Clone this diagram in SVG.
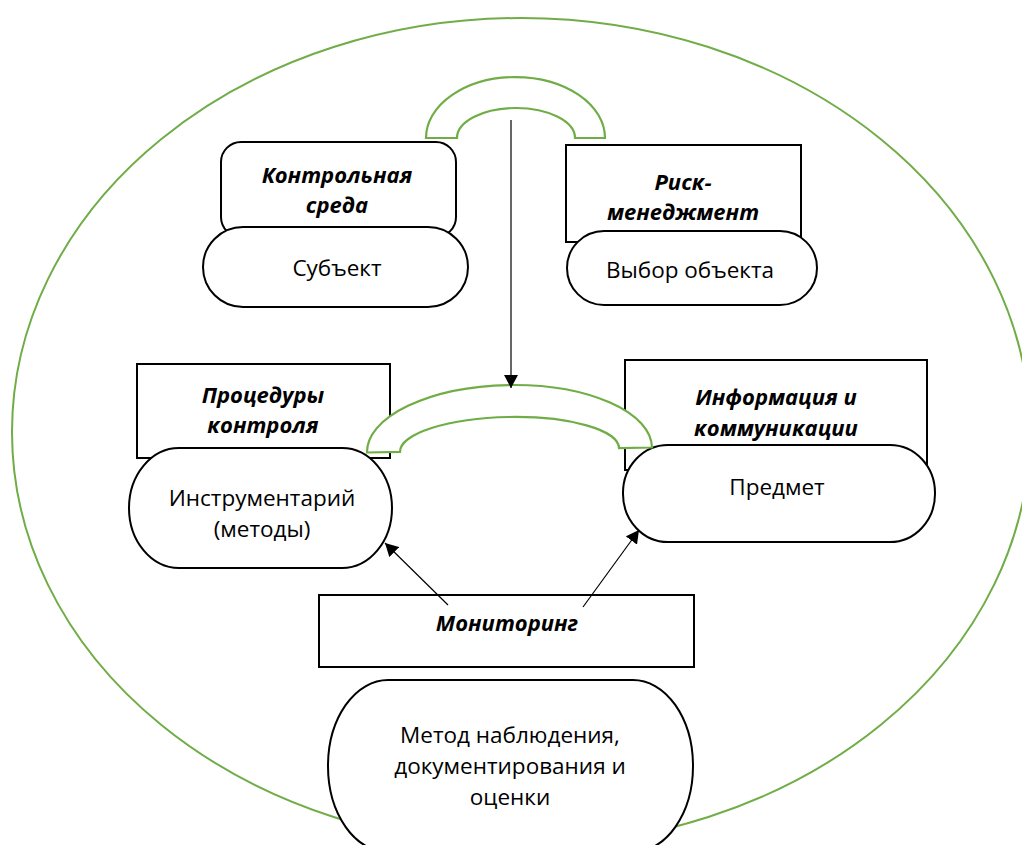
<svg xmlns="http://www.w3.org/2000/svg" width="1022" height="845" viewBox="0 0 1022 845">
<style>
.bg{fill:#ffffff}
.frame{fill:none;stroke:#70AD47;stroke-width:2}
.arch{fill:#ffffff;stroke:#70AD47;stroke-width:2.2;stroke-linejoin:miter}
.box{fill:#ffffff;stroke:#000000;stroke-width:2}
.oval{fill:#ffffff;stroke:#000000;stroke-width:2}
.h{font-family:"Open Sans","Liberation Sans",sans-serif;font-weight:bold;font-style:italic;font-size:22px;fill:#000;text-anchor:middle}
.t{font-family:"Open Sans","Liberation Sans",sans-serif;font-size:22.5px;fill:#000;text-anchor:middle}
.conn{stroke:#000;stroke-width:1.2;fill:none}
</style>
<defs>
<marker id="ah" viewBox="0 0 13 14" refX="13" refY="7" markerWidth="13" markerHeight="14" markerUnits="userSpaceOnUse" orient="auto">
<path d="M0,0 L13,7 L0,14 Z" fill="#000"/>
</marker>
</defs>
<rect class="bg" x="0" y="0" width="1022" height="845"/>
<ellipse id="frame" class="frame" cx="521" cy="432" rx="509" ry="414"/>

<g id="kontrolnaya-sreda">
<rect class="box" x="221" y="142" width="235" height="95" rx="20" ry="20"/>
<text class="h" x="337" y="183">Контрольная</text>
<text class="h" x="337" y="213">среда</text>
</g>
<g id="subekt">
<rect class="oval" x="203" y="227" width="265" height="80" rx="40" ry="40"/>
<text class="t" x="337" y="276">Субъект</text>
</g>

<g id="risk">
<rect class="box" x="566" y="145" width="235" height="97"/>
<text class="h" x="683" y="190">Риск-</text>
<text class="h" x="683" y="220">менеджмент</text>
</g>
<g id="vybor">
<rect class="oval" x="567" y="231" width="250" height="74" rx="37" ry="37"/>
<text class="t" x="690" y="278">Выбор объекта</text>
</g>

<g id="procedury">
<rect class="box" x="137" y="364" width="253" height="94"/>
<text class="h" x="263" y="403">Процедуры</text>
<text class="h" x="263" y="433">контроля</text>
</g>
<g id="instrumentariy">
<rect class="oval" x="129" y="448" width="263" height="120" rx="50" ry="60"/>
<text class="t" x="262" y="506">Инструментарий</text>
<text class="t" x="262" y="537">(методы)</text>
</g>

<g id="informaciya">
<rect class="box" x="625" y="360" width="302" height="110"/>
<text class="h" x="776" y="405">Информация и</text>
<text class="h" x="776" y="436">коммуникации</text>
</g>
<g id="predmet">
<rect class="oval" x="623" y="445" width="312" height="97" rx="45" ry="48"/>
<text class="t" x="777" y="495">Предмет</text>
</g>

<g id="monitoring">
<rect class="box" x="319" y="595" width="375" height="72"/>
<text class="h" x="507" y="631">Мониторинг</text>
</g>
<g id="metod">
<rect class="oval" x="328" y="680" width="365" height="172" rx="60" ry="86"/>
<text class="t" x="510" y="743">Метод наблюдения,</text>
<text class="t" x="510" y="774">документирования и</text>
<text class="t" x="510" y="805">оценки</text>
</g>

<g id="arch-top">
<path class="arch" d="M426,138 A89.5,61 0 0 1 605,138 L575,138 A59,30 0 0 0 457,138 Z"/>
</g>
<g id="arch-middle">
<path class="arch" transform="rotate(-1 510 450)" d="M367,450 A142.5,65 0 0 1 652,450 L619,450 A109.5,33 0 0 0 400,450 Z"/>
</g>

<g id="connectors">
<line class="conn" x1="511" y1="120" x2="511" y2="388" marker-end="url(#ah)"/>
<line class="conn" x1="448" y1="605" x2="385" y2="543" marker-end="url(#ah)"/>
<line class="conn" x1="583" y1="607" x2="639" y2="530" marker-end="url(#ah)"/>
</g>
</svg>
